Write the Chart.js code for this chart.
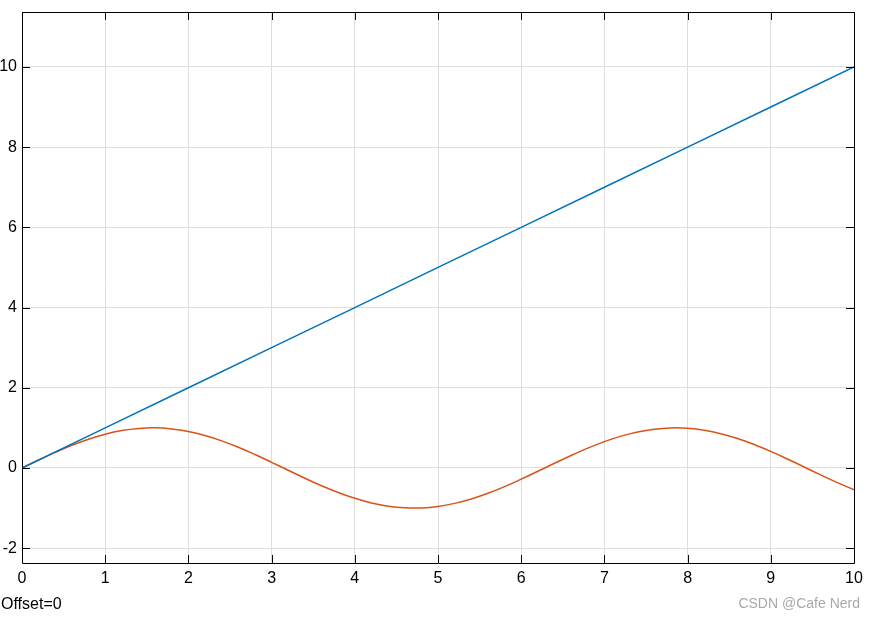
<!DOCTYPE html>
<html>
<head>
<meta charset="utf-8">
<script src="https://cdn.jsdelivr.net/npm/chart.js@4"></script>
<style>
html,body{margin:0;padding:0;background:#fff;}
#wrap{width:875px;height:619px;position:relative;}
</style>
</head>
<body>
<div id="wrap"><canvas id="c" width="875" height="619"></canvas></div>
<script>
// Data
const lineX = [0, 1, 2, 3, 4, 5, 6, 7, 8, 9, 10];
const lineY = [0, 1, 2, 3, 4, 5, 6, 7, 8, 9, 10];
const waveX = [0,0.2,0.4,0.6,0.8,1,1.2,1.4,1.6,1.8,2,2.2,2.4,2.6,2.8,3,3.2,3.4,3.6,3.8,4,4.2,4.4,4.6,4.8,5,5.2,5.4,5.6,5.8,6,6.2,6.4,6.6,6.8,7,7.2,7.4,7.6,7.8,8,8.2,8.4,8.6,8.8,9,9.2,9.4,9.6,9.8,10];
const waveY = [0,0.199,0.389,0.565,0.717,0.841,0.932,0.985,1.0,0.974,0.909,0.808,0.675,0.516,0.335,0.141,-0.058,-0.256,-0.443,-0.612,-0.757,-0.872,-0.952,-0.994,-0.996,-0.959,-0.883,-0.773,-0.631,-0.465,-0.279,-0.083,0.117,0.312,0.494,0.657,0.794,0.899,0.968,0.999,0.989,0.941,0.855,0.734,0.585,0.412,0.223,0.025,-0.174,-0.366,-0.544];
const xTicks = [0,1,2,3,4,5,6,7,8,9,10];
const yTicks = [-2,0,2,4,6,8,10];
const xRange = [0, 10];
const yRange = [-2.37, 11.37];
const footLeft = 'Offset=0';
const footRight = 'CSDN @Cafe Nerd';

const FONT = '"Liberation Sans", Arial, sans-serif';

const boxPlugin = {
  id: 'box',
  afterDatasetsDraw(chart) {
    const {ctx, chartArea: a, scales} = chart;
    ctx.save();
    ctx.strokeStyle = '#000';
    ctx.lineWidth = 1;
    ctx.beginPath();
    const tl = 8;
    xTicks.forEach(v => {
      const px = Math.round(scales.x.getPixelForValue(v)) + 0.5;
      ctx.moveTo(px, a.bottom); ctx.lineTo(px, a.bottom - tl);
      ctx.moveTo(px, a.top); ctx.lineTo(px, a.top + tl);
    });
    yTicks.forEach(v => {
      const py = Math.round(scales.y.getPixelForValue(v)) + 0.5;
      ctx.moveTo(a.left, py); ctx.lineTo(a.left + tl, py);
      ctx.moveTo(a.right, py); ctx.lineTo(a.right - tl, py);
    });
    ctx.stroke();
    ctx.beginPath();
    ctx.rect(Math.round(a.left) + 0.5, Math.round(a.top) + 0.5, Math.round(a.right - a.left), Math.round(a.bottom - a.top));
    ctx.stroke();
    ctx.font = '16px ' + FONT;
    ctx.fillStyle = '#000';
    ctx.textBaseline = 'middle';
    ctx.textAlign = 'left';
    ctx.fillText(footLeft, 1, 605);
    ctx.font = '14px ' + FONT;
    ctx.fillStyle = '#a8a8a8';
    ctx.textAlign = 'right';
    ctx.fillText(footRight, 860, 604);
    ctx.restore();
  }
};

new Chart(document.getElementById('c'), {
  type: 'scatter',
  data: {
    datasets: [
      {
        data: lineX.map((x, i) => ({x, y: lineY[i]})),
        showLine: true, borderColor: '#0072BD', borderWidth: 1.5,
        pointRadius: 0, fill: false
      },
      {
        data: waveX.map((x, i) => ({x, y: waveY[i]})),
        showLine: true, borderColor: '#D95319', borderWidth: 1.5,
        pointRadius: 0, fill: false, tension: 0.4
      }
    ]
  },
  options: {
    responsive: false,
    animation: false,
    events: [],
    layout: {padding: {top: 12, right: 21, left: 0, bottom: 0}},
    plugins: {legend: {display: false}, tooltip: {enabled: false}},
    scales: {
      x: {
        type: 'linear', min: xRange[0], max: xRange[1],
        afterBuildTicks: s => { s.ticks = xTicks.map(v => ({value: v})); },
        afterFit: s => { s.height = 56; s.paddingLeft = 0; s.paddingRight = 0; },
        grid: {color: '#dedede', drawTicks: false},
        border: {display: false},
        ticks: {color: '#000', font: {family: FONT, size: 16}, padding: 6, maxRotation: 0, autoSkip: false}
      },
      y: {
        type: 'linear', min: yRange[0], max: yRange[1],
        afterBuildTicks: s => { s.ticks = yTicks.map(v => ({value: v})); },
        afterFit: s => { s.width = 22; s.paddingTop = 0; s.paddingBottom = 0; },
        grid: {color: '#dedede', drawTicks: false},
        border: {display: false},
        ticks: {color: '#000', font: {family: FONT, size: 16}, padding: 5, autoSkip: false}
      }
    }
  },
  plugins: [boxPlugin]
});
</script>
</body>
</html>
